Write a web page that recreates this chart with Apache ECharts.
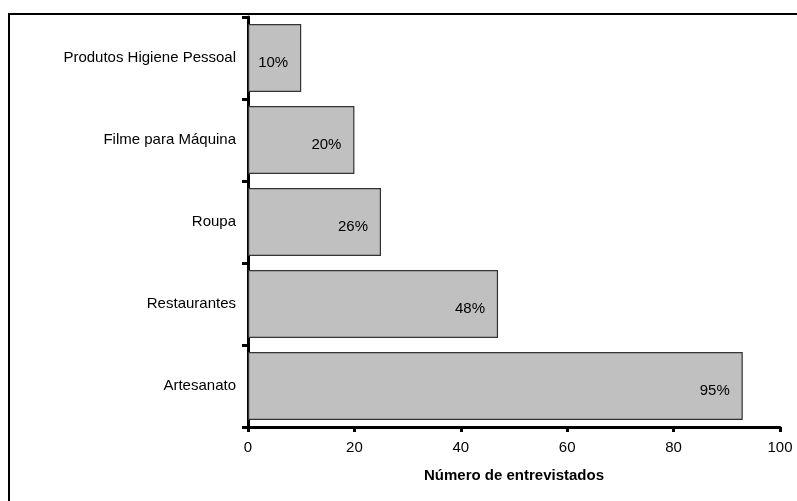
<!DOCTYPE html>
<html>
<head>
<meta charset="utf-8">
<script src="https://cdn.jsdelivr.net/npm/echarts@6/dist/echarts.min.js"></script>
<style>
  html, body { margin: 0; padding: 0; background: #fff; }
  #chart { width: 797px; height: 501px; }
</style>
</head>
<body>
<div id="chart"></div>
<script>
// Categories, bottom to top
const categories = ['Artesanato', 'Restaurantes', 'Roupa', 'Filme para Máquina', 'Produtos Higiene Pessoal'];
// Number of respondents per category
const respondents = [93, 47, 25, 20, 10];
// Share of respondents, shown inside each bar
const percentLabels = ['95%', '48%', '26%', '20%', '10%'];
// X axis ticks
const xMin = 0, xMax = 100, xStep = 20;

const font = 'Liberation Sans, Arial, sans-serif';
const chart = echarts.init(document.getElementById('chart'), null, { renderer: 'canvas' });

chart.setOption({
  backgroundColor: '#ffffff',
  animation: false,
  textStyle: { fontFamily: font },
  graphic: [{
    type: 'rect',
    shape: { x: 9, y: 14, width: 820, height: 520 },
    style: { fill: 'none', stroke: '#000', lineWidth: 2 },
    silent: true
  }],
  grid: { left: 248, right: 17, top: 17, bottom: 74, containLabel: false },
  xAxis: {
    type: 'value',
    min: xMin, max: xMax, interval: xStep,
    name: 'Número de entrevistados',
    nameLocation: 'middle',
    nameGap: 41,
    nameTextStyle: { fontFamily: font, fontSize: 15, fontWeight: 'bold', color: '#000' },
    axisLine: { show: true, lineStyle: { color: '#000', width: 3 } },
    axisTick: { show: true, length: 5, lineStyle: { color: '#000', width: 3 } },
    axisLabel: { fontFamily: font, fontSize: 15, color: '#000', margin: 13 },
    splitLine: { show: false }
  },
  yAxis: {
    type: 'category',
    data: categories,
    axisLine: { show: true, lineStyle: { color: '#000', width: 3 } },
    axisTick: { show: true, length: 6, lineStyle: { color: '#000', width: 3 } },
    axisLabel: { fontFamily: font, fontSize: 15, color: '#000', margin: 12 }
  },
  series: [{
    type: 'bar',
    data: respondents,
    barCategoryGap: '17%',
    itemStyle: { color: '#c0c0c0', borderColor: '#333', borderWidth: 1.2 },
    label: {
      show: true,
      position: 'insideRight',
      distance: 13,
      offset: [0, 5],
      fontFamily: font,
      fontSize: 15,
      color: '#000',
      formatter: p => percentLabels[p.dataIndex]
    }
  }]
});
</script>
</body>
</html>
